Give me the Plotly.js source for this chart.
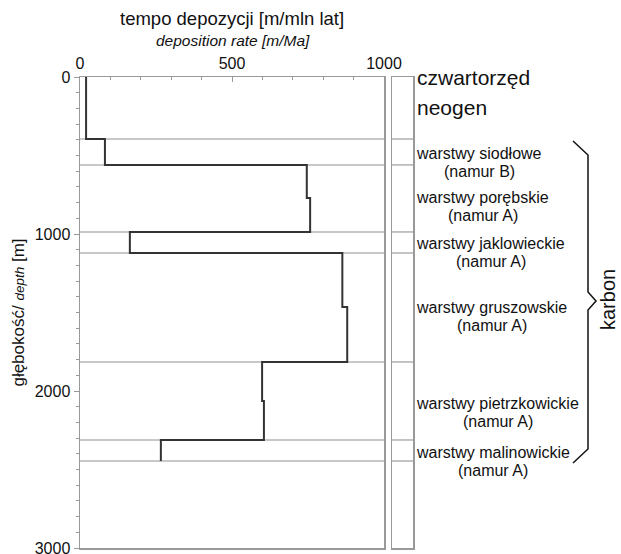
<!DOCTYPE html>
<html>
<head>
<meta charset="utf-8">
<script src="https://cdn.plot.ly/plotly-3.0.1.min.js"></script>
<style>html,body{margin:0;padding:0;background:#fff;}</style>
</head>
<body>
<div id="chart" style="width:621px;height:554px;"></div>
<script>
// Deposition-rate profile: each interval [top, bottom] in m, rate in m/Ma
const intervalTop    = [0,   395, 560, 771, 987, 1121, 1465, 1815, 2064, 2312];
const intervalBottom = [395, 560, 771, 987, 1121, 1465, 1815, 2064, 2312, 2446];
const rate           = [20,  82,  746, 757, 164,  863,  879,  599,  605,  266];

// Stratigraphic boundaries (depth, m)
const boundaries = [395, 560, 987, 1121, 1815, 2312, 2446];

// Axis ticks
const xTicks = [0, 500, 1000];
const yTicks = [0, 1000, 2000, 3000];

// Unit labels (two lines each)
const unitNames = [
  "warstwy siodłowe", "warstwy porębskie", "warstwy jaklowieckie",
  "warstwy gruszowskie", "warstwy pietrzkowickie", "warstwy malinowickie"
];
const unitStages = ["(namur B)", "(namur A)", "(namur A)", "(namur A)", "(namur A)", "(namur A)"];

const FONT = "Liberation Sans, Arial, sans-serif";

// geometry helpers (pixel -> paper), plot area 80..413 x 77..548
const PL = 80, PW = 333, PB = 548, PH = 471;
const pxX = p => (p - PL) / PW;
const pxY = p => (PB - p) / PH;
const labelTopPx = [153, 197, 243, 307, 403, 452];

// build step profile
const px = [], py = [];
for (let i = 0; i < rate.length; i++) {
  px.push(rate[i], rate[i]);
  py.push(intervalTop[i], intervalBottom[i]);
}

const traces = [
  {x: px, y: py, type: 'scatter', mode: 'lines', xaxis: 'x', yaxis: 'y',
   line: {color: '#333', width: 2}, hoverinfo: 'skip', showlegend: false},
  {x: [0, 1], y: [0, 3000], type: 'scatter', mode: 'none', xaxis: 'x2', yaxis: 'y2',
   hoverinfo: 'skip', showlegend: false}
];

const shapes = [];
boundaries.forEach(d => {
  shapes.push({type: 'line', xref: 'x', yref: 'y', x0: 0, x1: 1000, y0: d, y1: d,
               line: {color: '#c8c8c8', width: 2}, layer: 'below'});
  shapes.push({type: 'line', xref: 'x2', yref: 'y2', x0: 0, x1: 1.1, y0: d, y1: d,
               line: {color: '#b0b0b0', width: 1.5}, layer: 'above'});
});
shapes.push({type: 'line', xref: 'x2', yref: 'y2', x0: 1, x1: 1.1, y0: 0, y1: 0,
             line: {color: '#999', width: 1.5}});
// brace
shapes.push({type: 'path', xref: 'paper', yref: 'paper',
  path: 'M' + pxX(573) + ',' + pxY(141) + ' L' + pxX(588) + ',' + pxY(155) +
        ' L' + pxX(588) + ',' + pxY(292) + ' L' + pxX(596) + ',' + pxY(301) +
        ' L' + pxX(588) + ',' + pxY(310) + ' L' + pxX(588) + ',' + pxY(449) +
        ' L' + pxX(573) + ',' + pxY(463),
  line: {color: '#111', width: 1.5}});

const annotations = [
  {text: 'tempo depozycji [m/mln lat]', xref: 'paper', yref: 'paper', x: pxX(232), y: pxY(18),
   xanchor: 'center', yanchor: 'middle', showarrow: false, font: {family: FONT, size: 18.5, color: '#111'}},
  {text: '<i>deposition rate [m/Ma]</i>', xref: 'paper', yref: 'paper', x: pxX(233), y: pxY(40),
   xanchor: 'center', yanchor: 'middle', showarrow: false, font: {family: FONT, size: 15.5, color: '#111'}},
  {text: 'czwartorzęd', xref: 'paper', yref: 'paper', x: pxX(415), y: pxY(77),
   xanchor: 'left', yanchor: 'middle', showarrow: false, font: {family: FONT, size: 21, color: '#111'}},
  {text: 'neogen', xref: 'paper', yref: 'paper', x: pxX(415), y: pxY(107),
   xanchor: 'left', yanchor: 'middle', showarrow: false, font: {family: FONT, size: 21, color: '#111'}},
  {text: 'karbon', xref: 'paper', yref: 'paper', x: pxX(608), y: pxY(300), textangle: -90,
   xanchor: 'center', yanchor: 'middle', showarrow: false, font: {family: FONT, size: 20, color: '#111'}}
];

// measure first-line widths so the second line is centred under it
const cv = document.createElement('canvas').getContext('2d');
cv.font = '16px "Liberation Sans", Arial, sans-serif';
const LABEL_LEFT = 414;
unitNames.forEach((t, i) => {
  const w = cv.measureText(t).width;
  annotations.push({text: t, xref: 'paper', yref: 'paper', x: pxX(LABEL_LEFT), y: pxY(labelTopPx[i]),
    xanchor: 'left', yanchor: 'middle', showarrow: false,
    font: {family: FONT, size: 16, color: '#111'}});
  annotations.push({text: unitStages[i], xref: 'paper', yref: 'paper',
    x: pxX(LABEL_LEFT + 3 + w / 2), y: pxY(labelTopPx[i] + 18),
    xanchor: 'center', yanchor: 'middle', showarrow: false,
    font: {family: FONT, size: 16, color: '#111'}});
});

const layout = {
  width: 621, height: 554,
  margin: {l: 80, r: 208, t: 77, b: 6, pad: 0},
  paper_bgcolor: '#fff', plot_bgcolor: '#fff',
  font: {family: FONT, color: '#111'},
  showlegend: false,
  xaxis: {
    domain: [0, 304 / 333], side: 'top', range: [0, 1000], anchor: 'y',
    tickvals: xTicks, ticktext: xTicks.map(String),
    ticks: 'inside', ticklen: 5, tickcolor: '#999', tickwidth: 1,
    minor: {dtick: 100, tick0: 0, ticks: 'inside', ticklen: 3, tickcolor: '#999'},
    showline: true, linecolor: '#999', linewidth: 1.5, mirror: true,
    showgrid: false, zeroline: false, ticklabeloverflow: 'allow',
    tickfont: {family: FONT, size: 16, color: '#111'}
  },
  yaxis: {
    domain: [0, 1], range: [3000, 0], anchor: 'x',
    tickvals: yTicks, ticktext: yTicks.map(String),
    ticks: 'outside', ticklen: 5, tickcolor: '#999', tickwidth: 1,
    minor: {dtick: 100, tick0: 0, ticks: 'outside', ticklen: 3, tickcolor: '#999'},
    showline: true, linecolor: '#999', linewidth: 1.5, mirror: true,
    showgrid: false, zeroline: false, ticklabeloverflow: 'allow',
    tickfont: {family: FONT, size: 16, color: '#111'},
    title: {text: 'głębokość/ <i><span style="font-size:13.5px">depth</span></i> [m]',
            font: {family: FONT, size: 17, color: '#111'}, standoff: 6}
  },
  xaxis2: {
    domain: [312 / 333, 1], range: [0, 1], anchor: 'y2',
    showticklabels: false, ticks: '', showgrid: false, zeroline: false,
    showline: true, linecolor: '#999', linewidth: 1.5, mirror: true
  },
  yaxis2: {
    domain: [0, 1], range: [3000, 0], anchor: 'x2',
    showticklabels: false, ticks: '', showgrid: false, zeroline: false,
    showline: true, linecolor: '#999', linewidth: 1.5, mirror: true
  },
  shapes: shapes,
  annotations: annotations
};

Plotly.newPlot('chart', traces, layout, {displayModeBar: false, staticPlot: true});
</script>
</body>
</html>
